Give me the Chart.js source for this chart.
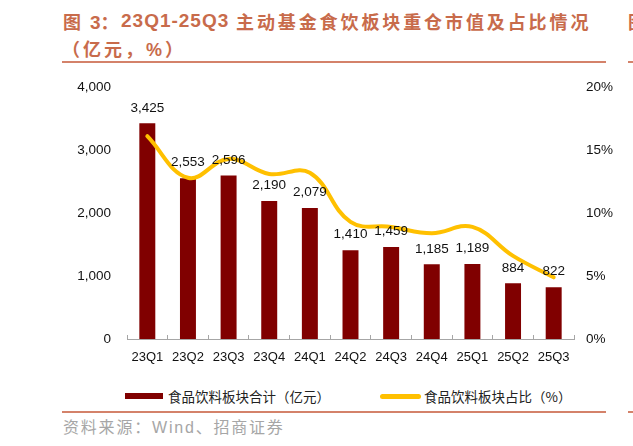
<!DOCTYPE html>
<html>
<head>
<meta charset="utf-8">
<script src="https://cdn.jsdelivr.net/npm/chart.js@4.4.1/dist/chart.umd.min.js"></script>
<style>
  body { margin: 0; background: #fff; width: 633px; height: 446px; position: relative; overflow: hidden; }
  .abs { position: absolute; white-space: nowrap; }
  .cjk { font-family: "Noto Sans CJK SC", sans-serif; }
  .lat { font-family: "Liberation Sans", Arial, sans-serif; }
  .title { color: #c86b4b; font-weight: bold; font-size: 18px; line-height: 18px; }
  .rule { position: absolute; height: 2px; background: #d4826a; }
  .legend { font-family: "Noto Sans CJK SC", sans-serif; font-size: 13.5px; line-height: 14px; color: #222; }
  .src { font-family: "Noto Sans CJK SC", sans-serif; font-size: 16px; line-height: 16px; color: #a6a6a6; letter-spacing: 1.8px; }
  #c { position: absolute; left: 0; top: 63px; }
</style>
</head>
<body>
<div class="abs title cjk" style="left:63px;top:12px">图</div>
<div class="abs title" style="left:90px;top:12px"><span class="lat" style="font-size:19px">3</span><span class="cjk">：</span></div>
<div class="abs title lat" style="left:121px;top:12px;font-size:19px;letter-spacing:1px">23Q1-25Q3</div>
<div class="abs title cjk" style="left:236px;top:12px;letter-spacing:2.9px">主动基金食饮板块重仓市值及占比情况</div>
<div class="abs title cjk" style="left:62px;top:39px;letter-spacing:3px">（亿元，<span class="lat">%</span>）</div>
<div class="abs title cjk" style="left:628px;top:12px">图</div>
<div class="rule" style="left:62px;top:61px;width:544px"></div>
<div class="rule" style="left:628px;top:61px;width:5px"></div>

<canvas id="c" width="633" height="307"></canvas>

<div class="abs" style="left:125px;top:393px;width:38px;height:6px;background:#800000"></div>
<div class="abs legend" style="left:168px;top:389px">食品饮料板块合计（亿元）</div>
<div class="abs" style="left:380px;top:393.5px;width:41px;height:5px;border-radius:2.5px;background:#ffc000"></div>
<div class="abs legend" style="left:424px;top:389px">食品饮料板块占比（%）</div>

<div class="rule" style="left:62px;top:411px;width:544px"></div>
<div class="rule" style="left:628px;top:411px;width:5px"></div>
<div class="abs src" style="left:63px;top:418px">资料来源：<span class="lat">Wind</span>、招商证券</div>

<script>
const quarters = ['23Q1', '23Q2', '23Q3', '23Q4', '24Q1', '24Q2', '24Q3', '24Q4', '25Q1', '25Q2', '25Q3']
const amounts = [3425, 2553, 2596, 2190, 2079, 1410, 1459, 1185, 1189, 884, 822]
const shares = [16.1, 12.8, 14.3, 13.1, 13.2, 9.3, 8.9, 8.4, 8.9, 6.6, 4.9]

// values above the bars, drawn after everything like the original
const barLabels = {
  id: 'barLabels',
  afterDatasetsDraw(chart) {
    const ctx = chart.ctx
    const meta = chart.getDatasetMeta(0)
    ctx.save()
    ctx.font = '13.5px "Liberation Sans", Arial, sans-serif'
    ctx.fillStyle = '#111'
    ctx.textAlign = 'center'
    ctx.textBaseline = 'middle'
    meta.data.forEach((bar, i) => {
      ctx.fillText(amounts[i].toLocaleString('en-US'), bar.x, bar.y - 15.5)
    })
    ctx.restore()
  }
}

new Chart(document.getElementById('c').getContext('2d'), {
  type: 'bar',
  plugins: [barLabels],
  data: {
    labels: quarters,
    datasets: [
      {
        type: 'bar',
        label: '食品饮料板块合计（亿元）',
        data: amounts,
        backgroundColor: '#800000',
        categoryPercentage: 1,
        barPercentage: 0.393,
        yAxisID: 'y',
        order: 1,
      },
      {
        type: 'line',
        label: '食品饮料板块占比（%）',
        data: shares,
        borderColor: '#ffc000',
        borderWidth: 4,
        borderCapStyle: 'round',
        tension: 0.4,
        pointRadius: 0,
        fill: false,
        yAxisID: 'y1',
        order: 0,
      },
    ],
  },
  options: {
    responsive: false,
    animation: false,
    layout: {padding: {top: 9, left: 0, right: 0, bottom: 0}},
    plugins: {
      legend: {display: false},
      tooltip: {enabled: false},
    },
    scales: {
      x: {
        grid: {
          offset: true,
          drawOnChartArea: false,
          drawTicks: true,
          tickLength: -4,
          color: '#a6a6a6',
        },
        border: {display: true, color: '#a6a6a6', width: 1},
        ticks: {
          color: '#111',
          padding: 15,
          font: {family: '"Liberation Sans", Arial, sans-serif', size: 13},
        },
        afterFit(scale) { scale.height = 31 },
      },
      y: {
        position: 'left',
        min: 0,
        max: 4000,
        grid: {display: false, drawTicks: false},
        border: {display: false},
        ticks: {
          stepSize: 1000,
          padding: 16,
          color: '#111',
          font: {family: '"Liberation Sans", Arial, sans-serif', size: 13.5},
          callback: v => v.toLocaleString('en-US'),
        },
        afterFit(scale) { scale.width = 127 },
      },
      y1: {
        position: 'right',
        min: 0,
        max: 20,
        grid: {display: false, drawTicks: false},
        border: {display: false},
        ticks: {
          stepSize: 5,
          padding: 12,
          color: '#111',
          font: {family: '"Liberation Sans", Arial, sans-serif', size: 13.5},
          callback: v => v + '%',
        },
        afterFit(scale) { scale.width = 59 },
      },
    },
  },
})
</script>
</body>
</html>
